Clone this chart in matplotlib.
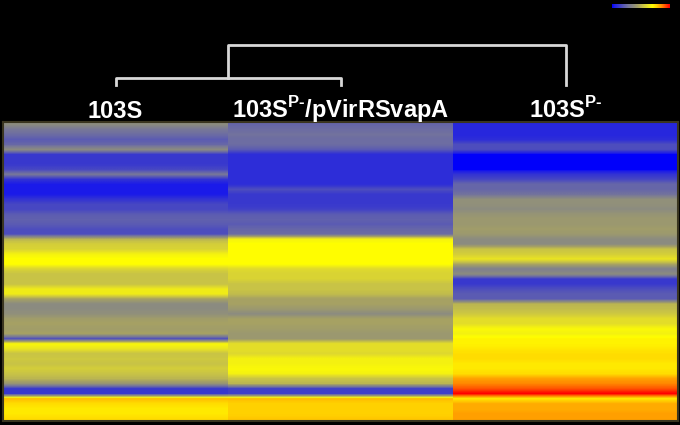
import numpy as np
import matplotlib
matplotlib.use("Agg")
import matplotlib.pyplot as plt
from matplotlib.colors import LinearSegmentedColormap, Normalize

plt.rcParams["font.family"] = ["Liberation Sans", "DejaVu Sans"]
plt.rcParams["mathtext.fontset"] = "custom"
plt.rcParams["mathtext.bf"] = "Liberation Sans:bold"
plt.rcParams["mathtext.rm"] = "Liberation Sans:bold"

# strains (columns of the heatmap)
strains = ["103S", r"$\mathbf{103S}^{\mathbf{P\text{-}}}\mathbf{/pVirRSvapA}$",
           r"$\mathbf{103S}^{\mathbf{P\text{-}}}$"]

# expression values, one per gene row (top to bottom)
col_103S = [0, -0.5, -0.7, -1, -0.8, 0, -1.5, -1.5, -1.5, -1.3,
            -0.5, -1.6, -2, -2, -2, -1.6, -1.3, -1.3, -1, -0.9,
            -1, -1.2, -1.2, 0.8, 1.2, 1.3, 1.8, 2, 2, 1.3,
            1, 1, 1, 1.7, 1.7, 0.5, 0, 0, 0.1, 0.4,
            0.5, 0.4, 0.5, -1.2, 1.9, 1.6, 1, 1.1, 1, 1.2,
            1, 0.8, 0.2, -1.5, -1.5, 2.6, 2.3, 2.2, 2.2, 2.3]
col_comp = [-0.8, -0.7, -0.6, -0.7, -0.7, -1, -1.7, -1.7, -1.7, -1.7,
            -1.7, -1.7, -1.7, -1.2, -1.5, -1.5, -1.5, -1.4, -1, -0.9,
            -1, -0.8, -0.7, 1.8, 2, 2, 2, 2, 2, 1.4,
            1.3, 1.3, 1, 1, 0.9, 0.5, 0.5, 0.3, 0, 0.5,
            0.5, 0.4, 0.3, 0.3, 1.5, 1.5, 1.4, 1.8, 1.8, 1.9,
            1.8, 1, 0.8, -1.4, -1.4, 2.6, 2.4, 2.4, 2.4, 2.5]
col_Pminus = [-1.8, -1.8, -1.8, -1.7, -1.2, -1.2, -2.2, -2.2, -2.2, -2.2,
              -1.6, -1.3, -0.8, -0.8, -0.6, 0.1, 0.1, 0, 0.2, 0.3,
              0.3, 0.4, 0.3, 0, 0, 1, 1.2, 1.6, 0.6, -0.3,
              0, -1.5, -1.5, -1.2, -1, -1, 0.8, 0.9, 1.1, 1.5,
              1.5, 1.9, 1.8, 2.1, 2.1, 2.2, 2.3, 2.3, 2.2, 2.2,
              2.3, 2.8, 3, 3.3, 3.8, 2.2, 2.7, 2.7, 2.8, 2.8]

# dendrogram merge heights: (103S, complemented) then with 103S P-
merge_heights = [0.175, 1.0]

vmin, vmax = -2.2, 3.8
anchors = [(-2.2, (0, 0, 250)), (-2, (28, 28, 232)), (-1.5, (58, 58, 205)),
           (-1, (92, 92, 178)), (-0.5, (120, 120, 152)), (0, (140, 140, 128)),
           (0.5, (166, 161, 100)), (1, (200, 195, 70)), (1.5, (228, 222, 40)),
           (2, (255, 255, 0)), (2.5, (255, 200, 0)), (3, (255, 135, 0)),
           (3.8, (255, 0, 0))]
cmap = LinearSegmentedColormap.from_list(
    "expr", [((v - vmin) / (vmax - vmin), tuple(c / 255 for c in rgb)) for v, rgb in anchors])
norm = Normalize(vmin, vmax)

fig = plt.figure(figsize=(6.8, 4.25), dpi=100, facecolor="black")

# heatmap
ax = fig.add_axes([3 / 680, 4 / 425, 675 / 680, 299 / 425])
ax.set_facecolor("black")
columns = [col_103S, col_comp, col_Pminus]
n = len(col_103S)
for j, col in enumerate(columns):
    ax.imshow(np.array(col).reshape(-1, 1), cmap=cmap, norm=norm, aspect="auto",
              interpolation="bilinear", extent=(j, j + 1, n, 0))
ax.set_xlim(0, 3)
ax.set_ylim(n, 0)
ax.set_xticks([])
ax.set_yticks([])
for s in ax.spines.values():
    s.set_color("#3a3520")
    s.set_linewidth(1.5)

# dendrogram + labels
dax = fig.add_axes([3 / 680, 303 / 425, 675 / 680, 122 / 425], sharex=ax)
dax.set_facecolor("black")
dax.set_ylim(-0.925, 2.125)
dax.axis("off")
lc = "#d8d8d8"
h1, h2 = merge_heights
dax.plot([0.5, 0.5, 1.5, 1.5], [0, h1, h1, 0], color=lc, lw=2)
dax.plot([1.0, 1.0, 2.5, 2.5], [h1, h2, h2, 0], color=lc, lw=2)
for j, lab in enumerate(strains):
    dax.text(j + 0.5, -0.825, lab, color="white", fontsize=17, fontweight="bold",
             ha="center", va="baseline")

# tiny colour scale bar top right
cax = fig.add_axes([612 / 680, 1 - 8 / 425, 58 / 680, 4 / 425])
cax.imshow(np.linspace(vmin, vmax, 100).reshape(1, -1), cmap=cmap, norm=norm,
           aspect="auto", interpolation="bilinear")
cax.axis("off")

fig.savefig("out.png", dpi=100, facecolor="black")
